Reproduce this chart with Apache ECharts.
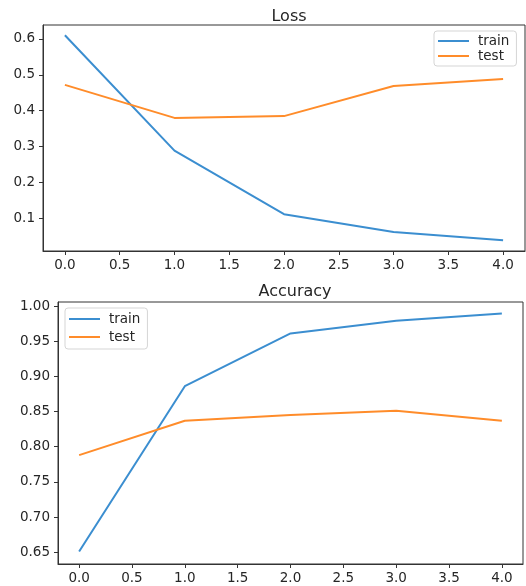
<!DOCTYPE html>
<html>
<head>
<meta charset="utf-8">
<script src="https://cdn.jsdelivr.net/npm/echarts@6/dist/echarts.min.js"></script>
<style>html,body{margin:0;padding:0;background:#fff}#c{width:526px;height:586px}</style>
</head>
<body>
<div id="c"></div>
<script>
// Data
var epochs = [0, 1, 2, 3, 4];
var lossTrain = [0.610, 0.289, 0.112, 0.062, 0.039];
var lossTest = [0.472, 0.380, 0.385, 0.469, 0.488];
var accTrain = [0.651, 0.886, 0.961, 0.979, 0.9895];
var accTest = [0.788, 0.837, 0.845, 0.851, 0.837];
var xTicks = [0, 0.5, 1, 1.5, 2, 2.5, 3, 3.5, 4];
var lossTicks = [0.1, 0.2, 0.3, 0.4, 0.5, 0.6];
var accTicks = [0.65, 0.70, 0.75, 0.80, 0.85, 0.90, 0.95, 1.00];

var BLUE = '#3b8ed0', ORANGE = '#ff8c2a';
var FONT = 'DejaVu Sans';
var TXT = '#262626';

function pairs(xs, ys) { return xs.map(function (x, i) { return [x, ys[i]]; }); }

function xAxis(gi) {
  return {
    type: 'value', gridIndex: gi, min: -0.2, max: 4.2,
    splitLine: { show: false },
    axisLine: { show: true, onZero: false, lineStyle: { color: '#333', width: 1 } },
    axisTick: { show: true, length: 4, customValues: xTicks, lineStyle: { color: '#333' } },
    axisLabel: { customValues: xTicks, margin: 7, fontFamily: FONT, fontSize: 13.5, color: TXT,
      formatter: function (v) { return v.toFixed(1); } }
  };
}
function yAxis(gi, min, max, ticks, dec) {
  return {
    type: 'value', gridIndex: gi, min: min, max: max,
    splitLine: { show: false },
    axisLine: { show: true, onZero: false, lineStyle: { color: '#333', width: 1 } },
    axisTick: { show: true, length: 4, customValues: ticks, lineStyle: { color: '#333' } },
    axisLabel: { customValues: ticks, margin: 8, fontFamily: FONT, fontSize: 13.5, color: TXT,
      formatter: function (v) { return v.toFixed(dec); } }
  };
}
function line(name, data, color, gi) {
  return {
    type: 'line', name: name, xAxisIndex: gi, yAxisIndex: gi, data: data,
    showSymbol: false, symbol: 'none', color: color,
    lineStyle: { color: color, width: 2 }, animation: false, z: 3
  };
}
function legend(left, top, gap, pad) {
  return {
    data: ['train', 'test'], orient: 'vertical', left: left, top: top,
    icon: 'rect', itemWidth: 31, itemHeight: 2, itemGap: gap,
    padding: pad, borderColor: '#d5d5d5', borderWidth: 1, borderRadius: 3,
    backgroundColor: 'rgba(255,255,255,0.85)',
    textStyle: { fontFamily: FONT, fontSize: 13.5, color: TXT, padding: [0, 0, 0, 4] },
    selectedMode: false
  };
}

var chart = echarts.init(document.getElementById('c'), null, { renderer: 'canvas' });
chart.setOption({
  animation: false,
  backgroundColor: '#fff',
  title: [
    { text: 'Loss', left: 284, top: 4, textAlign: 'center',
      textStyle: { fontFamily: FONT, fontSize: 16, fontWeight: 'normal', color: TXT } },
    { text: 'Accuracy', left: 290, top: 279, textAlign: 'center',
      textStyle: { fontFamily: FONT, fontSize: 16, fontWeight: 'normal', color: TXT } }
  ],
  grid: [
    { left: 43, top: 25, width: 482, height: 226, show: true, borderColor: '#333', borderWidth: 1, containLabel: false },
    { left: 58, top: 302, width: 465, height: 262, show: true, borderColor: '#333', borderWidth: 1, containLabel: false }
  ],
  legend: [legend(434, 31, 1, [3, 7, 3, 4]), legend(65, 308, 4, [4, 7, 5, 4])],
  xAxis: [xAxis(0), xAxis(1)],
  yAxis: [yAxis(0, 0.0094, 0.6386, lossTicks, 1), yAxis(1, 0.6333, 1.0057, accTicks, 2)],
  series: [
    line('train', pairs(epochs, lossTrain), BLUE, 0),
    line('test', pairs(epochs, lossTest), ORANGE, 0),
    line('train', pairs(epochs, accTrain), BLUE, 1),
    line('test', pairs(epochs, accTest), ORANGE, 1)
  ]
});
</script>
</body>
</html>
